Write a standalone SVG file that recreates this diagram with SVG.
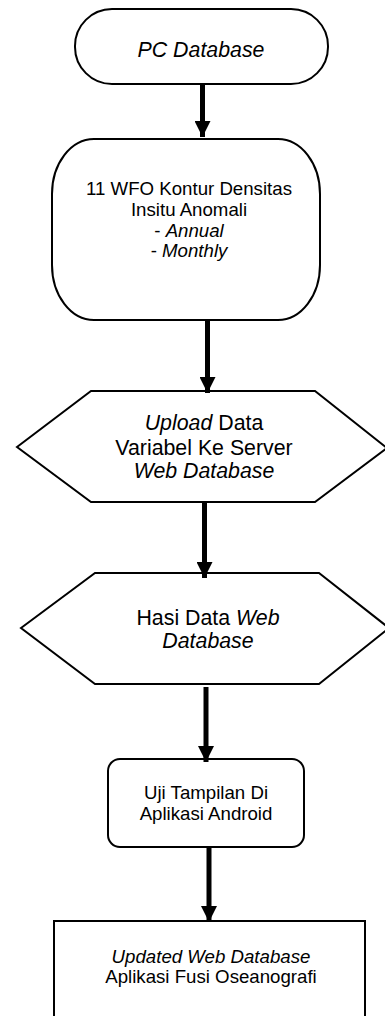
<svg xmlns="http://www.w3.org/2000/svg" width="385" height="1016" viewBox="0 0 385 1016">
<defs>
<style>
.s{fill:#fff;stroke:#000;stroke-width:2}
.t{font-family:"Liberation Sans",Arial,sans-serif;fill:#000;text-anchor:middle}
.m{font-size:18.67px}
.l{font-size:21.33px}
.i{font-style:italic}
.c{stroke:#000;stroke-width:5;fill:none}
</style>
<marker id="ah" markerUnits="userSpaceOnUse" markerWidth="16" markerHeight="16" refX="16" refY="8" orient="auto" viewBox="0 0 16 16">
<path d="M0,0 L16,8 L0,16 Z" fill="#000"/>
</marker>
</defs>
<rect width="385" height="1016" fill="#fff"/>
<g id="n1">
<rect class="s" x="75" y="9" width="253" height="75" rx="37" ry="37"/>
<text class="t l i" x="201" y="57">PC Database</text>
</g>
<g id="n2">
<rect class="s" x="52" y="139" width="268" height="181" rx="42" ry="55"/>
<text class="t m" x="189" y="195">11 WFO Kontur Densitas</text>
<text class="t m" x="189" y="216">Insitu Anomali</text>
<text class="t m" x="189" y="237">- <tspan class="i">Annual</tspan></text>
<text class="t m" x="189" y="257">- <tspan class="i">Monthly</tspan></text>
</g>
<g id="n3">
<path class="s" d="M17,447 L91,391 L315,391 L387,448 L315,502 L91,502 Z"/>
<text class="t l" x="204" y="430"><tspan class="i">Upload</tspan> Data</text>
<text class="t l" x="204" y="455">Variabel Ke Server</text>
<text class="t l i" x="204" y="478">Web Database</text>
</g>
<g id="n4">
<path class="s" d="M21,628 L95,573 L319,573 L389,628 L319,684 L95,684 Z"/>
<text class="t l" x="208" y="625">Hasi Data <tspan class="i">Web</tspan></text>
<text class="t l i" x="208" y="648">Database</text>
</g>
<g id="n5">
<rect class="s" x="108" y="759" width="196" height="88" rx="12" ry="12"/>
<text class="t m" x="206" y="799">Uji Tampilan Di</text>
<text class="t m" x="206" y="820">Aplikasi Android</text>
</g>
<g id="n6">
<rect class="s" x="54" y="921" width="311" height="130"/>
<text class="t m i" x="211" y="963">Updated Web Database</text>
<text class="t m" x="211" y="983">Aplikasi Fusi Oseanografi</text>
</g>
<g id="connectors">
<line class="c" x1="202.5" y1="85" x2="202.5" y2="137" marker-end="url(#ah)"/>
<line class="c" x1="207.5" y1="320" x2="207.5" y2="393" marker-end="url(#ah)"/>
<line class="c" x1="204.5" y1="502" x2="204.5" y2="578" marker-end="url(#ah)"/>
<line class="c" x1="206" y1="687" x2="206" y2="762" marker-end="url(#ah)"/>
<line class="c" x1="209" y1="847" x2="209" y2="922" marker-end="url(#ah)"/>
</g>
</svg>
